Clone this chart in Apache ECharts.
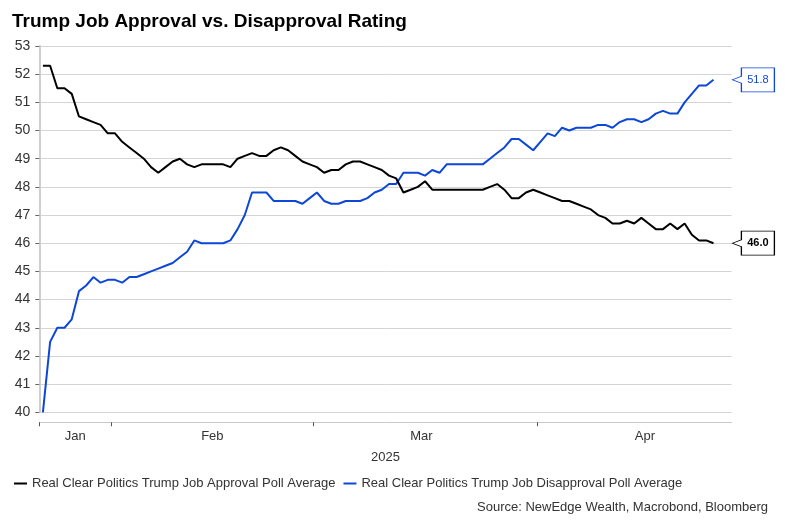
<!DOCTYPE html>
<html>
<head>
<meta charset="utf-8">
<script src="https://cdn.jsdelivr.net/npm/echarts@6/dist/echarts.min.js"></script>
<style>html,body{margin:0;padding:0;background:#fff}#c{width:787px;height:523px}</style>
</head>
<body>
<div id="c"></div>
<script>
// Daily categories (one band per day), 22 Jan 2025 .. 27 Apr 2025
const dates = [];
for (let t = Date.UTC(2025, 0, 22); t <= Date.UTC(2025, 3, 27); t += 86400000) {
  dates.push(new Date(t).toISOString().slice(0, 10));
}
// Day boundaries (midnights) 22 Jan .. 28 Apr, used for the visible tick axis
const boundaries = [];
for (let t = Date.UTC(2025, 0, 22); t <= Date.UTC(2025, 3, 28); t += 86400000) {
  boundaries.push(new Date(t).toISOString().slice(0, 10));
}
const monthStartDates = ['2025-01-22', '2025-02-01', '2025-03-01', '2025-04-01'];
const monthLabelDates = ['2025-01-27', '2025-02-15', '2025-03-16', '2025-04-16'];
const monthLabels = ['Jan', 'Feb', 'Mar', 'Apr'];

// Real Clear Politics averages, from 22 Jan 2025 to 25 Apr 2025
const approval = [
  52.3, 52.3, 51.5, 51.5, 51.3, 50.5, 50.4, 50.3, 50.2, 49.9,
  49.9, 49.6, 49.4, 49.2, 49.0, 48.7, 48.5, 48.7, 48.9, 49.0,
  48.8, 48.7, 48.8, 48.8, 48.8, 48.8, 48.7, 49.0, 49.1, 49.2,
  49.1, 49.1, 49.3, 49.4, 49.3, 49.1, 48.9, 48.8, 48.7, 48.5,
  48.6, 48.6, 48.8, 48.9, 48.9, 48.8, 48.7, 48.6, 48.4, 48.3,
  47.8, 47.9, 48.0, 48.2, 47.9, 47.9, 47.9, 47.9, 47.9, 47.9,
  47.9, 47.9, 48.0, 48.1, 47.9, 47.6, 47.6, 47.8, 47.9, 47.8,
  47.7, 47.6, 47.5, 47.5, 47.4, 47.3, 47.2, 47.0, 46.9, 46.7,
  46.7, 46.8, 46.7, 46.9, 46.7, 46.5, 46.5, 46.7, 46.5, 46.7,
  46.3, 46.1, 46.1, 46.0
];
const disapproval = [
  40.0, 42.5, 43.0, 43.0, 43.3, 44.3, 44.5, 44.8, 44.6, 44.7,
  44.7, 44.6, 44.8, 44.8, 44.9, 45.0, 45.1, 45.2, 45.3, 45.5,
  45.7, 46.1, 46.0, 46.0, 46.0, 46.0, 46.1, 46.5, 47.0, 47.8,
  47.8, 47.8, 47.5, 47.5, 47.5, 47.5, 47.4, 47.6, 47.8, 47.5,
  47.4, 47.4, 47.5, 47.5, 47.5, 47.6, 47.8, 47.9, 48.1, 48.1,
  48.5, 48.5, 48.5, 48.4, 48.6, 48.5, 48.8, 48.8, 48.8, 48.8,
  48.8, 48.8, 49.0, 49.2, 49.4, 49.7, 49.7, 49.5, 49.3, 49.6,
  49.9, 49.8, 50.1, 50.0, 50.1, 50.1, 50.1, 50.2, 50.2, 50.1,
  50.3, 50.4, 50.4, 50.3, 50.4, 50.6, 50.7, 50.6, 50.6, 51.0,
  51.3, 51.6, 51.6, 51.8
];

const approvalName = 'Real Clear Politics Trump Job Approval Poll Average';
const disapprovalName = 'Real Clear Politics Trump Job Disapproval Poll Average';
const BLACK = '#000000';
const BLUE = '#0d47d6';
const FONT = '"Liberation Sans", Arial, sans-serif';

function callout(values, color, bold) {
  const v = values[values.length - 1];
  return {
    silent: true,
    symbol: 'path://M0,12 L9,8.5 L9,0 L42,0 L42,24 L9,24 L9,15.5 Z',
    symbolSize: [42, 24],
    symbolKeepAspect: false,
    symbolOffset: [25.5, 0],
    itemStyle: { color: '#ffffff', borderColor: color, borderWidth: 1 },
    label: {
      show: true, position: 'inside', offset: [4.5, 0],
      formatter: () => v.toFixed(1),
      color: color, fontSize: 11, fontFamily: FONT, fontWeight: bold ? 'bold' : 'normal'
    },
    data: [{ coord: [dates[dates.length - 1], v] }]
  };
}

const chart = echarts.init(document.getElementById('c'), null, { renderer: 'canvas' });
chart.setOption({
  animation: false,
  backgroundColor: '#ffffff',
  textStyle: { fontFamily: FONT },
  title: [
    { text: 'Trump Job Approval vs. Disapproval Rating', left: 7, top: 7,
      textStyle: { fontSize: 19, fontWeight: 'bold', color: '#000', fontFamily: FONT } },
    { text: 'Source: NewEdge Wealth, Macrobond, Bloomberg', right: 14, top: 496,
      textStyle: { fontSize: 13, fontWeight: 'normal', color: '#333', fontFamily: FONT } }
  ],
  legend: {
    left: 9, top: 472, itemGap: 8, itemWidth: 13, itemHeight: 2, icon: 'rect',
    textStyle: { fontSize: 13, color: '#333', fontFamily: FONT },
    data: [approvalName, disapprovalName]
  },
  grid: { left: 39.3, right: 55.5, top: 46, bottom: 110.7, containLabel: false },
  xAxis: [
    { // visible axis: ticks at month starts, labels centred in months
      type: 'category', data: boundaries, boundaryGap: false, offset: 10,
      axisLine: { show: true, lineStyle: { color: '#c8c8c8', width: 1 } },
      axisTick: { show: true, length: 4, interval: (i, v) => monthStartDates.includes(v),
        lineStyle: { color: '#555' } },
      axisLabel: { interval: (i, v) => monthLabelDates.includes(v),
        formatter: v => monthLabels[monthLabelDates.indexOf(v)] || '',
        fontSize: 13, color: '#333', margin: 8, fontFamily: FONT },
      splitLine: { show: false },
      name: '2025', nameLocation: 'middle', nameGap: 29,
      nameTextStyle: { fontSize: 13, color: '#333', fontFamily: FONT }
    },
    { // data axis: one band per day
      type: 'category', data: dates, boundaryGap: true, show: false
    }
  ],
  yAxis: {
    type: 'value', min: 40, max: 53, interval: 1,
    axisLine: { show: true, lineStyle: { color: '#cfcfcf', width: 2 } },
    axisTick: { show: true, length: 4, lineStyle: { color: '#666' } },
    axisLabel: { fontSize: 14, color: '#333', margin: 9, fontFamily: FONT },
    splitLine: { show: true, lineStyle: { color: '#d4d4d4', width: 1 } }
  },
  series: [
    { name: approvalName, type: 'line', xAxisIndex: 1, data: approval, symbol: 'none',
      lineStyle: { color: BLACK, width: 2 }, itemStyle: { color: BLACK },
      markPoint: callout(approval, BLACK, true), z: 3 },
    { name: disapprovalName, type: 'line', xAxisIndex: 1, data: disapproval, symbol: 'none',
      lineStyle: { color: BLUE, width: 2 }, itemStyle: { color: BLUE },
      markPoint: callout(disapproval, BLUE, false), z: 2 }
  ]
});
</script>
</body>
</html>
